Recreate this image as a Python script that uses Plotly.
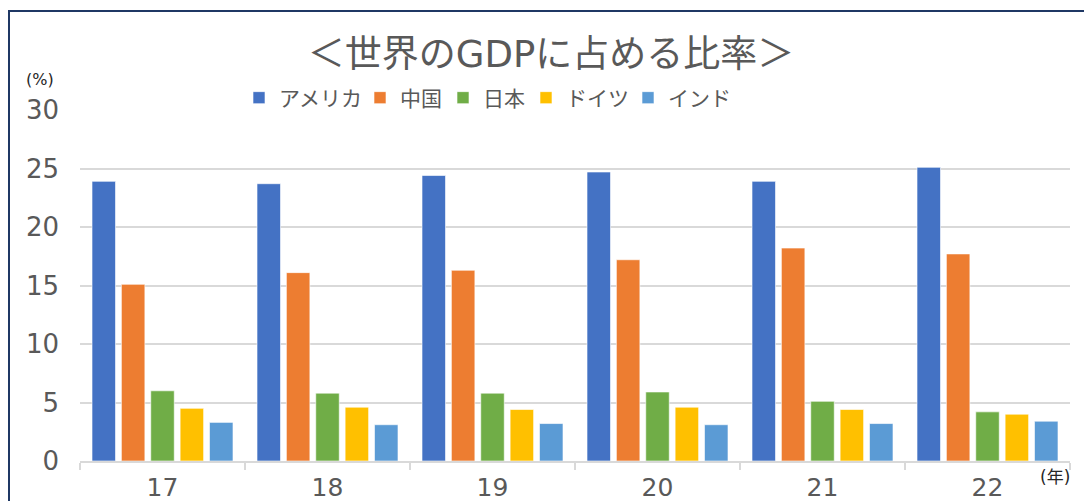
import plotly.graph_objects as go

years = ["17", "18", "19", "20", "21", "22"]
series_names = ["アメリカ", "中国", "日本", "ドイツ", "インド"]
usa = [23.9, 23.7, 24.4, 24.7, 23.9, 25.1]
china = [15.1, 16.1, 16.3, 17.2, 18.2, 17.7]
japan = [6.0, 5.8, 5.8, 5.9, 5.1, 4.2]
germany = [4.5, 4.6, 4.4, 4.6, 4.4, 4.0]
india = [3.3, 3.1, 3.2, 3.1, 3.2, 3.4]
colors = ["#4472C4", "#ED7D31", "#70AD47", "#FFC000", "#5B9BD5"]
y_ticks = [0, 5, 10, 15, 20, 25, 30]

FONT = "DejaVu Sans, Noto Sans CJK JP, sans-serif"
TXT = "#595959"

# page body has ~8px offset; work in window pixels and convert
OX, OY = 8, 7
W, H = 1084, 493
L, R, T, B = 80 - OX, 22, 109 - OY, 40
pw, ph = W - L - R, H - T - B

def px(x):
    return (x - OX - L) / pw

def py(y):
    return (H - B - (y - OY)) / ph

legend_ids = ["legend", "legend2", "legend3", "legend4", "legend5"]
legend_x = [258, 379, 462, 545, 647]

fig = go.Figure()
for name, vals, col, lid in zip(series_names, [usa, china, japan, germany, india], colors, legend_ids):
    fig.add_trace(go.Bar(
        x=years, y=vals, name=name, legend=lid,
        marker=dict(color=col, line=dict(color="rgba(255,255,255,0.6)", width=1)),
    ))

legend_layout = {}
for lid, lx in zip(legend_ids, legend_x):
    legend_layout[lid] = dict(orientation="h", x=px(lx - 19), xanchor="left", y=py(97), yanchor="middle",
                              font=dict(size=21, color=TXT, family=FONT), bgcolor="rgba(0,0,0,0)",
                              itemwidth=30, borderwidth=0)

fig.update_layout(
    width=W, height=H,
    margin=dict(l=L, r=R, t=T, b=B, autoexpand=False),
    paper_bgcolor="white", plot_bgcolor="white",
    barmode="group", bargap=0.11, bargroupgap=0.2,
    font=dict(family=FONT, color=TXT),
    title=dict(text="＜世界のGDPに占める比率＞", x=px(551), xref="paper",
               y=1 - (53 - OY) / H, yref="container", xanchor="center", yanchor="middle",
               font=dict(size=37, color=TXT, family=FONT)),
    showlegend=True,
    xaxis=dict(type="category", automargin=False, showgrid=False, showline=True,
               linecolor="#D9D9D9", linewidth=1.5,
               ticks="outside", tickson="boundaries", ticklen=7, tickcolor="#D9D9D9", tickwidth=1.5,
               tickfont=dict(size=25, color=TXT, family=FONT), ticklabelstandoff=3),
    yaxis=dict(range=[0, 30], tickvals=y_ticks, automargin=False, showgrid=True,
               gridcolor="#D9D9D9", gridwidth=1.5,
               zeroline=False, showline=False, ticks="",
               tickfont=dict(size=26, color=TXT, family=FONT), ticklabelstandoff=20),
    shapes=[dict(type="rect", xref="paper", yref="paper",
                 x0=px(9), x1=px(1130), y0=py(540), y1=py(10),
                 line=dict(color="#1F3864", width=2), fillcolor="rgba(0,0,0,0)", layer="below")],
    annotations=[
        dict(text="(%)", xref="paper", yref="paper", x=px(40), y=py(78), showarrow=False,
             xanchor="center", yanchor="middle", font=dict(size=16, color="#262626", family=FONT)),
        dict(text="(年)", xref="paper", yref="paper", x=px(1055), y=py(476), showarrow=False,
             xanchor="center", yanchor="middle", font=dict(size=17, color="#262626", family=FONT)),
    ],
    **legend_layout,
)

fig.write_html("out.html")
